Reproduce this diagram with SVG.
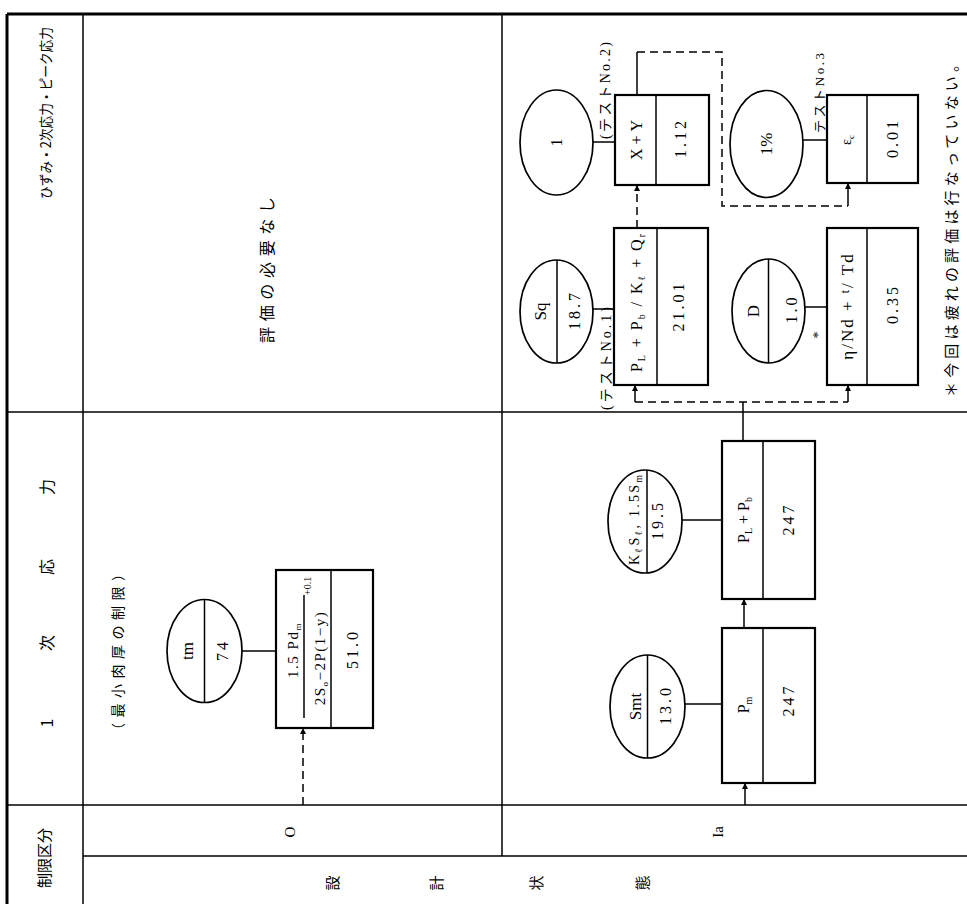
<svg xmlns="http://www.w3.org/2000/svg" width="967" height="904" viewBox="0 0 967 904">
<style>
text{font-family:"Liberation Serif","Noto Sans CJK JP",serif;fill:#000}
.j{font-family:"Noto Sans CJK JP","Liberation Serif",sans-serif}
.c{text-anchor:middle}
.v{font-size:16px;letter-spacing:3px}
.ln{stroke:#000;stroke-width:1.5;fill:none}
.tk{stroke:#000;stroke-width:3;fill:none}
.bx{stroke:#000;stroke-width:2.2;fill:#fff}
.el{stroke:#000;stroke-width:1.7;fill:#fff}
.ds{stroke-dasharray:8 5}
</style>
<defs>
<marker id="ah" viewBox="0 0 10 10" refX="10" refY="5" markerWidth="7" markerHeight="6" markerUnits="userSpaceOnUse" orient="auto"><path d="M0,0 L10,5 L0,10 z" fill="#000"/></marker>
</defs>
<rect width="967" height="904" fill="#fff"/>
<g transform="translate(0,904) rotate(-90)">
<g id="table">
<line class="tk" x1="890" y1="7" x2="890" y2="967"/>
<line class="tk" x1="0" y1="7" x2="890" y2="7"/>
<line class="ln" x1="0" y1="83" x2="890" y2="83"/>
<line class="ln" x1="492" y1="7" x2="492" y2="967"/>
<line class="ln" x1="99" y1="7" x2="99" y2="967"/>
<line class="ln" x1="48" y1="83" x2="48" y2="967"/>
<line class="ln" x1="48" y1="502" x2="890" y2="502"/>
<text class="j c" x="46" y="50" font-size="15">制限区分</text>
<text class="j c" x="181" y="53" font-size="16">1</text>
<text class="j c" x="261" y="53" font-size="16">次</text>
<text class="j c" x="337" y="53" font-size="16">応</text>
<text class="j c" x="417" y="53" font-size="16">力</text>
<text class="j c" x="791" y="51" font-size="14" textLength="172" lengthAdjust="spacingAndGlyphs">ひずみ・2次応力・ピーク応力</text>
<text class="c" x="72" y="295" font-size="15">O</text>
<text class="c" x="72" y="723" font-size="15">Ia</text>
<text class="j c" x="21" y="338" font-size="15">設</text>
<text class="j c" x="21" y="442" font-size="15">計</text>
<text class="j c" x="21" y="542" font-size="15">状</text>
<text class="j c" x="21" y="648" font-size="15">態</text>
<text class="j c" x="252" y="123" font-size="14" textLength="170" lengthAdjust="spacing">（最小肉厚の制限）</text>
<text class="j c" x="634" y="273" font-size="16" textLength="146" lengthAdjust="spacing">評価の必要なし</text>
<text class="j" x="507" y="957" font-size="15" textLength="340" lengthAdjust="spacing">＊今回は疲れの評価は行なっていない。</text>
</g>
<g id="connectors">
<line class="ln" x1="253" y1="242" x2="253" y2="276"/>
<line class="ln ds" x1="99" y1="303" x2="176" y2="303" marker-end="url(#ah)"/>
<line class="ln" x1="200" y1="685" x2="200" y2="722"/>
<line class="ln" x1="99" y1="745" x2="121" y2="745" marker-end="url(#ah)"/>
<line class="ln" x1="276" y1="744" x2="305" y2="744" marker-end="url(#ah)"/>
<line class="ln" x1="384" y1="682" x2="384" y2="722"/>
<line class="ln" x1="463" y1="743" x2="502" y2="743"/>
<line class="ln ds" x1="502" y1="635" x2="502" y2="848"/>
<line class="ln" x1="502" y1="635" x2="519" y2="635" marker-end="url(#ah)"/>
<line class="ln" x1="502" y1="848" x2="519" y2="848" marker-end="url(#ah)"/>
<line class="ln" x1="595" y1="593" x2="595" y2="614"/>
<line class="ln" x1="762" y1="593" x2="762" y2="615"/>
<line class="ln ds" x1="676" y1="637" x2="719" y2="637" marker-end="url(#ah)"/>
<line class="ln" x1="809" y1="637" x2="852" y2="637"/>
<path class="ln ds" d="M852,637 L852,722 L698,722 L698,848"/>
<line class="ln" x1="698" y1="848" x2="721" y2="848" marker-end="url(#ah)"/>
<line class="ln" x1="764" y1="803" x2="764" y2="827"/>
<line class="ln" x1="597" y1="805" x2="597" y2="827"/>
</g>
<g id="tm">
<ellipse class="el" cx="253" cy="204.5" rx="51.5" ry="37.5"/>
<line class="ln" x1="201.5" y1="204.5" x2="304.5" y2="204.5"/>
<text class="c" x="253" y="193" font-size="17">tm</text>
<text class="c v" x="254" y="228">74</text>
</g>
<g id="formula">
<rect class="bx" x="176" y="276" width="158" height="97"/>
<line class="ln" x1="176" y1="331" x2="334" y2="331"/>
<line class="ln" x1="186" y1="304" x2="309" y2="304"/>
<text class="c" x="254" y="298" font-size="15" letter-spacing="1.5">1.5 Pd<tspan font-size="9" dy="3">m</tspan></text>
<text class="c" x="246" y="325" font-size="15" letter-spacing="1.5">2S<tspan font-size="9" dy="3">o</tspan><tspan dy="-3">−2P(1−y)</tspan></text>
<text x="309" y="311" font-size="10">+0.1</text>
<text class="c v" x="255" y="358" letter-spacing="4">51.0</text>
</g>
<g id="smt">
<ellipse class="el" cx="197.5" cy="647.5" rx="51.5" ry="37.5"/>
<line class="ln" x1="146" y1="647.5" x2="249" y2="647.5"/>
<text class="c" x="197.5" y="641" font-size="17">Smt</text>
<text class="c v" x="199" y="671">13.0</text>
</g>
<g id="pm">
<rect class="bx" x="121" y="722" width="155" height="93"/>
<line class="ln" x1="121" y1="763" x2="276" y2="763"/>
<text class="c" x="199" y="749" font-size="16">P<tspan font-size="10" dy="3">m</tspan></text>
<text class="c v" x="204" y="794" letter-spacing="6">247</text>
</g>
<g id="ks">
<ellipse class="el" cx="382.5" cy="645" rx="51.5" ry="37"/>
<line class="ln" x1="331" y1="647" x2="434" y2="647"/>
<text class="c" x="384" y="639" font-size="14" textLength="90" lengthAdjust="spacing">K<tspan font-size="10" dy="3">ℓ</tspan><tspan dy="-3">S</tspan><tspan font-size="10" dy="3">ℓ</tspan><tspan dy="-3">, 1.5S</tspan><tspan font-size="10" dy="3">m</tspan></text>
<text class="c v" x="384" y="663">19.5</text>
</g>
<g id="plpb">
<rect class="bx" x="305" y="722" width="158" height="93"/>
<line class="ln" x1="305" y1="763" x2="463" y2="763"/>
<text class="c" x="384" y="749" font-size="16">P<tspan font-size="10" dy="3">L</tspan><tspan dy="-3"> + P</tspan><tspan font-size="10" dy="3">b</tspan></text>
<text class="c v" x="385" y="794" letter-spacing="6">247</text>
</g>
<g id="sq">
<ellipse class="el" cx="592.5" cy="556.5" rx="51.5" ry="36.5"/>
<line class="ln" x1="541" y1="557" x2="644" y2="557"/>
<text class="c" x="592.5" y="546" font-size="17">Sq</text>
<text class="c v" x="594" y="580">18.7</text>
<text x="494" y="611" font-size="14" textLength="103" lengthAdjust="spacing">(テストNo.1)</text>
</g>
<g id="plpbq">
<rect class="bx" x="519" y="614" width="157" height="94"/>
<line class="ln" x1="519" y1="657" x2="676" y2="657"/>
<text class="c" x="601" y="642" font-size="16" textLength="138" lengthAdjust="spacing">P<tspan font-size="10" dy="3">L</tspan><tspan dy="-3"> + P</tspan><tspan font-size="10" dy="3">b</tspan><tspan dy="-3"> / K</tspan><tspan font-size="10" dy="3">ℓ</tspan><tspan dy="-3"> + Q</tspan><tspan font-size="10" dy="3">r</tspan></text>
<text class="c v" x="598" y="684">21.01</text>
</g>
<g id="one">
<ellipse class="el" cx="761.5" cy="556.5" rx="52.5" ry="36.5"/>
<text class="c" x="761.5" y="562" font-size="16">1</text>
<text x="765" y="610" font-size="14" textLength="97" lengthAdjust="spacing">(テストNo.2)</text>
</g>
<g id="xy">
<rect class="bx" x="719" y="615" width="90" height="94"/>
<line class="ln" x1="719" y1="656" x2="809" y2="656"/>
<text class="c" x="766" y="642" font-size="16" letter-spacing="4">X+Y</text>
<text class="c v" x="766" y="686">1.12</text>
</g>
<g id="pct">
<ellipse class="el" cx="760" cy="766.5" rx="53.5" ry="36.5"/>
<text class="c" x="760" y="772" font-size="17">1%</text>
<text x="771" y="824" font-size="13" textLength="80" lengthAdjust="spacing">テストNo.3</text>
</g>
<g id="eps">
<rect class="bx" x="721" y="827" width="88" height="91"/>
<line class="ln" x1="721" y1="867" x2="809" y2="867"/>
<text class="c" x="764" y="851" font-size="14">ε<tspan font-size="9" dy="3">c</tspan></text>
<text class="c v" x="766" y="898">0.01</text>
</g>
<g id="d">
<ellipse class="el" cx="593" cy="768.5" rx="52" ry="36.5"/>
<line class="ln" x1="541" y1="768.5" x2="645" y2="768.5"/>
<text class="c" x="593" y="759" font-size="17">D</text>
<text class="c v" x="595" y="797">1.0</text>
<text class="c" x="569" y="823" font-size="14">*</text>
</g>
<g id="usage">
<rect class="bx" x="519" y="827" width="157" height="91"/>
<line class="ln" x1="519" y1="867" x2="676" y2="867"/>
<text class="c" x="598" y="853" font-size="17" letter-spacing="2">η/Nd + <tspan font-size="12" dy="-4">t</tspan><tspan dy="4">/ Td</tspan></text>
<text class="c v" x="600" y="898">0.35</text>
</g>
</g>
</svg>
